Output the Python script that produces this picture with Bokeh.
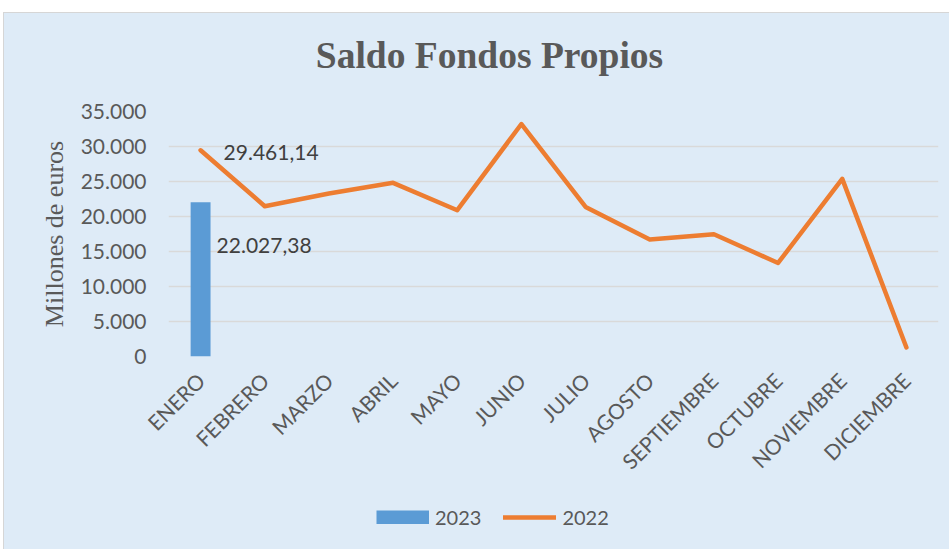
import math
from bokeh.plotting import figure
from bokeh.layouts import column, row
from bokeh.models import (FactorRange, Range1d, FixedTicker, ColumnDataSource,
                          LabelSet, Label, Legend, LegendItem, Spacer)
from bokeh.core.properties import value
from bokeh.embed import file_html
from bokeh.resources import INLINE

# ---- data ----
months = ["ENERO", "FEBRERO", "MARZO", "ABRIL", "MAYO", "JUNIO", "JULIO",
          "AGOSTO", "SEPTIEMBRE", "OCTUBRE", "NOVIEMBRE", "DICIEMBRE"]
values_2022 = [29461.14, 21470, 23290, 24810, 20900, 33210, 21370,
               16700, 17460, 13360, 25380, 1290]
months_2023 = ["ENERO"]
values_2023 = [22027.38]
y_ticks = [0, 5000, 10000, 15000, 20000, 25000, 30000, 35000]
title_text = "Saldo Fondos Propios"


def es_num(v, dec=0):
    s = f"{v:,.{dec}f}"
    return s.replace(",", "X").replace(".", ",").replace("X", ".")


BG = "#DEEBF7"
GREY = "#595959"
SANS = "Lato"
SERIF = "Liberation Serif"
C23 = "#5B9BD5"
C22 = "#ED7D31"

# ---- title strip ----
t = figure(width=945, height=86, x_range=Range1d(0, 1), y_range=Range1d(0, 1),
           output_backend="svg", toolbar_location=None,
           x_axis_type=None, y_axis_type=None, min_border=0,
           background_fill_alpha=0, border_fill_alpha=0,
           outline_line_color=None)
t.grid.grid_line_color = None
t.add_layout(Label(x=321, y=44, x_units="screen", y_units="screen",
                   text=title_text, text_align="center",
                   text_baseline="alphabetic", text_font=SERIF,
                   text_font_style="bold", text_font_size="37.5px",
                   text_color=GREY))

# ---- main chart ----
p = figure(width=945, height=396,
           x_range=FactorRange(*months), y_range=Range1d(0, 35000),
           output_backend="svg", toolbar_location=None,
           min_border_left=164, min_border_right=11,
           min_border_top=12, min_border_bottom=139,
           background_fill_color=BG, border_fill_color=BG,
           outline_line_color=None)

src23 = ColumnDataSource(dict(month=months_2023, value=values_2023,
                              label=[es_num(v, 2) for v in values_2023]))
src22 = ColumnDataSource(dict(month=months, value=values_2022))
src22_lab = ColumnDataSource(dict(month=months[:1], value=values_2022[:1],
                                  label=[es_num(values_2022[0], 2)]))

p.vbar(x="month", top="value", width=0.31, source=src23,
       fill_color=C23, line_color=None)
p.line(x="month", y="value", source=src22, line_color=C22,
       line_width=4.5, line_join="round", line_cap="round")

p.add_layout(LabelSet(x="month", y="value", text="label", source=src22_lab,
                      x_offset=23, y_offset=-2, text_align="left",
                      text_baseline="middle", text_font=value(SANS),
                      text_font_size=value("21px"), text_color="#404040"))
p.add_layout(LabelSet(x="month", y="value", text="label", source=src23,
                      x_offset=16, y_offset=-43, text_align="left",
                      text_baseline="middle", text_font=value(SANS),
                      text_font_size=value("21px"), text_color="#404040"))

p.yaxis.ticker = FixedTicker(ticks=y_ticks)
p.yaxis.major_label_overrides = {tk: es_num(tk) for tk in y_ticks}
p.yaxis.axis_label = "Millones de euros"
p.yaxis.axis_label_text_font = SERIF
p.yaxis.axis_label_text_font_style = "normal"
p.yaxis.axis_label_text_font_size = "26px"
p.yaxis.axis_label_text_color = GREY
p.yaxis.axis_label_standoff = 9
p.yaxis.major_label_standoff = 16

p.xaxis.major_label_orientation = math.pi / 4
p.xaxis.major_label_standoff = 14

for ax in (p.xaxis, p.yaxis):
    ax.axis_line_color = None
    ax.major_tick_line_color = None
    ax.minor_tick_line_color = None
    ax.major_label_text_font = SANS
    ax.major_label_text_font_size = "21px"
    ax.major_label_text_color = GREY

p.xgrid.grid_line_color = None
p.ygrid.grid_line_color = "#D9D9D9"
p.ygrid.grid_line_width = 1.5

# ---- legend strip ----
q = figure(width=945, height=54, x_range=FactorRange(*months),
           y_range=Range1d(0, 35000), output_backend="svg",
           toolbar_location=None, x_axis_type=None, y_axis_type=None,
           min_border=0, background_fill_alpha=0, border_fill_alpha=0,
           outline_line_color=None)
q.grid.grid_line_color = None
# single-point lines: draw nothing, act only as legend swatches
key23 = q.line(x="month", y="value", source=src23, line_color=C23,
               line_width=14, line_cap="butt")
key22 = q.line(x=months[:1], y=values_2022[:1], line_color=C22,
               line_width=4.5, line_cap="round")
legend = Legend(items=[LegendItem(label="2023", renderers=[key23]),
                       LegendItem(label="2022", renderers=[key22])],
                orientation="horizontal", location=(208, 20),
                background_fill_alpha=0, border_line_color=None,
                padding=0, margin=0, spacing=22, label_standoff=6,
                glyph_width=53, glyph_height=14, label_height=20,
                label_text_font=SANS, label_text_font_size="20px",
                label_text_color=GREY)
q.add_layout(legend)

chart = column(t, p, q, styles={"background-color": BG,
                                "outline": "1px solid #D6D6D6"})
page = column(Spacer(height=13), row(Spacer(width=4), chart))
open("out.html", "w").write(file_html(page, INLINE))
